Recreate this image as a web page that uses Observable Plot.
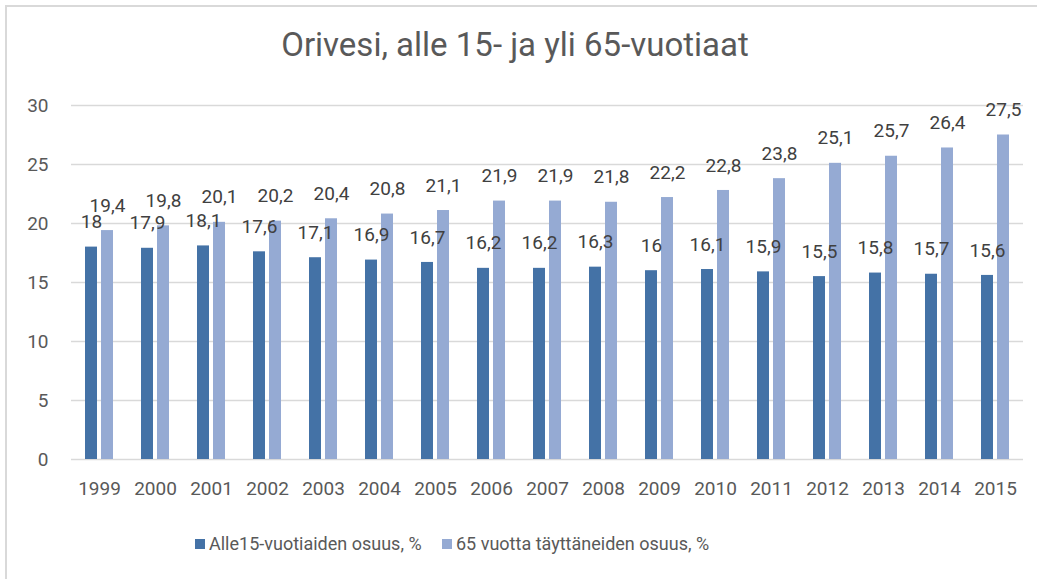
<!DOCTYPE html>
<html>
<head>
<meta charset="utf-8">
<script src="https://cdn.jsdelivr.net/npm/d3@7"></script>
<script src="https://cdn.jsdelivr.net/npm/@observablehq/plot@0.6"></script>
<style>
  html, body { margin: 0; padding: 0; background: #fff; }
  #wrap { position: relative; width: 1037px; height: 579px; overflow: hidden; background: #fff; font-family: Roboto, "Open Sans", sans-serif; }
  #frame { position: absolute; left: 5px; top: 5px; width: 1100px; height: 700px; border-left: 2px solid #d9d9d9; border-top: 2px solid #d9d9d9; }
  #title { position: absolute; left: 0; width: 1030px; top: 25px; text-align: center; font-size: 33px; color: #595959; }
  #plot { position: absolute; left: 0; top: 0; }
  #legend { position: absolute; top: 533px; left: 195px; font-size: 18px; color: #595959; white-space: nowrap; }
  .item { position: absolute; top: 0; display: flex; align-items: center; }
  .sw { width: 10px; height: 10px; margin-right: 4px; }
</style>
</head>
<body>
<div id="wrap">
  <div id="frame"></div>
  <div id="title"></div>
  <div id="plot"></div>
  <div id="legend"></div>
</div>
<script>
const title = "Orivesi, alle 15- ja yli 65-vuotiaat";
const years = ["1999","2000","2001","2002","2003","2004","2005","2006","2007","2008","2009","2010","2011","2012","2013","2014","2015"];
const seriesNames = ["Alle15-vuotiaiden osuus, %", "65 vuotta täyttäneiden osuus, %"];
const under15 = [18, 17.9, 18.1, 17.6, 17.1, 16.9, 16.7, 16.2, 16.2, 16.3, 16, 16.1, 15.9, 15.5, 15.8, 15.7, 15.6];
const over65 = [19.4, 19.8, 20.1, 20.2, 20.4, 20.8, 21.1, 21.9, 21.9, 21.8, 22.2, 22.8, 23.8, 25.1, 25.7, 26.4, 27.5];
const yTicks = [0, 5, 10, 15, 20, 25, 30];
const colors = ["#4472A6", "#95AAD3"];

const table = [];
years.forEach((y, i) => {
  table.push({year: y, series: seriesNames[0], value: under15[i]});
  table.push({year: y, series: seriesNames[1], value: over65[i]});
});
const fmt = v => String(v).replace(".", ",");

document.getElementById("title").textContent = title;

const chart = Plot.plot({
  width: 1037,
  height: 510,
  marginTop: 105,
  marginBottom: 51,
  marginLeft: 70,
  marginRight: 14,
  style: {fontFamily: "Roboto, 'Open Sans', sans-serif", fontSize: "19px", color: "#595959", background: "transparent"},
  fx: {domain: years, padding: 0, label: null, axis: "bottom", tickSize: 0, tickPadding: 22},
  x: {domain: seriesNames, paddingInner: 0.22, paddingOuter: 0.787, axis: null},
  y: {domain: [0, 30], ticks: yTicks, label: null, tickSize: 0, tickPadding: 23},
  color: {domain: seriesNames, range: colors},
  marks: [
    Plot.ruleY(yTicks, {stroke: "#d9d9d9", strokeWidth: 1.5}),
    Plot.barY(table, {fx: "year", x: "series", y: "value", fill: "series"}),
    Plot.text(table, {fx: "year", x: "series", y: "value", text: d => fmt(d.value), dy: -25, fill: "#404040", fontSize: 19})
  ]
});
document.getElementById("plot").appendChild(chart);

const legend = document.getElementById("legend");
const offsets = [0, 247];
seriesNames.forEach((s, i) => {
  const it = document.createElement("div");
  it.className = "item";
  it.style.left = offsets[i] + "px";
  const sw = document.createElement("div");
  sw.className = "sw";
  sw.style.background = colors[i];
  const tx = document.createElement("span");
  tx.textContent = s;
  it.appendChild(sw); it.appendChild(tx);
  legend.appendChild(it);
});
</script>
</body>
</html>
